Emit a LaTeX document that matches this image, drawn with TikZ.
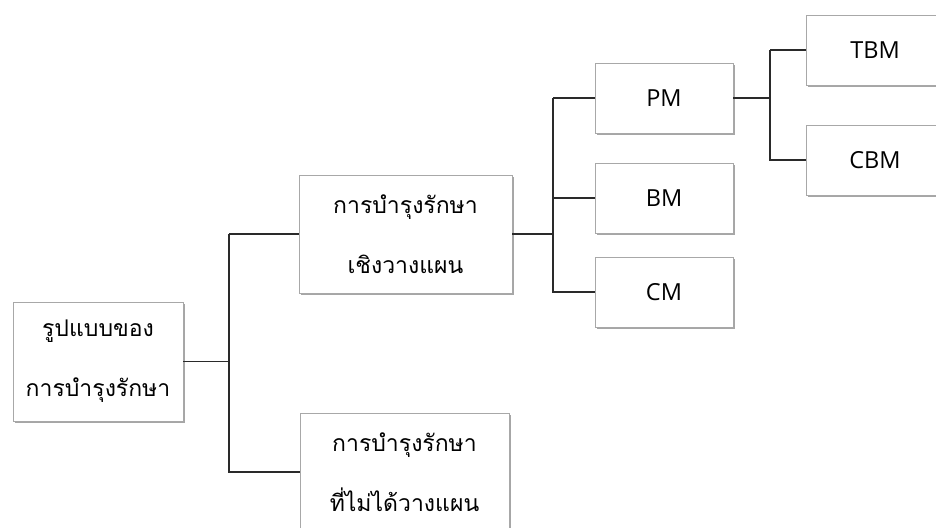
\documentclass[tikz,border=0pt]{standalone}
\usepackage{fontspec}
\usetikzlibrary{shadows}
\newfontfamily\thaifont[Script=Thai]{Loma}
\setmainfont{Open Sans}
\definecolor{boxline}{HTML}{A8A8A8}
\definecolor{conn}{HTML}{2A2A2A}
\tikzset{
  box/.style={draw=boxline, line width=0.9pt, fill=white, rectangle, align=center,
    inner sep=0pt,
    drop shadow={shadow xshift=1.5pt, shadow yshift=-1.8pt, fill=black, opacity=0.35},
    font=\thaifont\fontsize{23}{60}\selectfont},
  bigbox/.style={box, minimum height=118pt},
  smallbox/.style={box, minimum width=138pt, minimum height=70pt,
    font=\fontsize{23.5}{26}\selectfont},
  link/.style={draw=conn, line width=1.5pt}
}
\begin{document}
\begin{tikzpicture}[x=1pt, y=-1pt]
\useasboundingbox (0,0) rectangle (936,527);
\clip (0,0) rectangle (936,527);
\fill[white] (0,0) rectangle (936,527);
% nodes
\node[bigbox, minimum width=170pt, minimum height=119pt] (root) at (98,361.5) {รูปแบบของ\\การบำรุงรักษา};
\node[bigbox, minimum width=213pt] (plan) at (405.5,234) {การบำรุงรักษา\\เชิงวางแผน};
\node[bigbox, minimum width=209pt] (unplan) at (404.5,472) {การบำรุงรักษา\\ที่ไม่ได้วางแผน};
\node[smallbox] (pm) at (664,98) {PM};
\node[smallbox] (bm) at (664,198) {BM};
\node[smallbox] (cm) at (664,292) {CM};
\node[smallbox] (tbm) at (875,50) {TBM};
\node[smallbox] (cbm) at (875,160) {CBM};
% junctions
\coordinate (j1) at (229,361.5);
\coordinate (j2) at (553,234);
\coordinate (j3) at (770,98);
% connectors
\draw[link] (root.east) -- (j1);
\draw[link] (j1 |- plan.west) |- (unplan.west);
\draw[link] (j1 |- plan.west) -- (plan.west);
\draw[link] (plan.east) -- (j2);
\draw[link] (j2 |- pm.west) -- (pm.west);
\draw[link] (j2 |- pm.west) |- (cm.west);
\draw[link] (j2 |- bm.west) -- (bm.west);
\draw[link] (pm.east) -- (j3);
\draw[link] (j3 |- tbm.west) -- (tbm.west);
\draw[link] (j3 |- tbm.west) |- (cbm.west);
\end{tikzpicture}
\end{document}
